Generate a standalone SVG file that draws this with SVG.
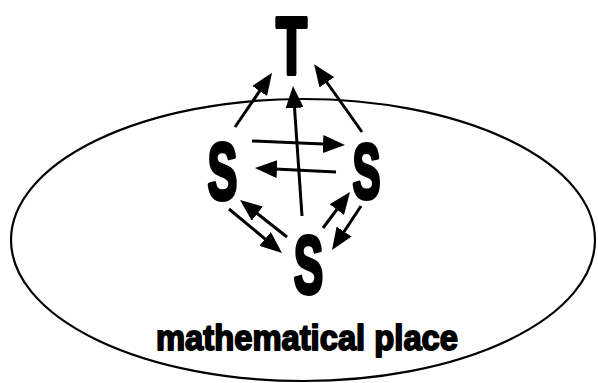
<svg xmlns="http://www.w3.org/2000/svg" width="598" height="383" viewBox="0 0 598 383">
<style>
.bg{fill:#ffffff}
.place{fill:none;stroke:#000;stroke-width:2.2}
.letter{font-family:"Liberation Sans",Arial,sans-serif;font-weight:bold;fill:#000;stroke:#000;stroke-width:4;stroke-linejoin:round;text-anchor:middle}
.label{font-family:"Liberation Sans",Arial,sans-serif;font-weight:bold;font-size:35px;fill:#000;stroke:#000;stroke-width:1.8;stroke-linejoin:round}
.conn line{stroke:#000;stroke-width:3;fill:none;marker-end:url(#ah)}
</style>
<defs>
<marker id="ah" markerUnits="userSpaceOnUse" markerWidth="22" markerHeight="18" refX="12" refY="9" orient="auto" viewBox="0 0 22 18">
<path d="M0,0 L22,9 L0,18 z" fill="#000"/>
</marker>
</defs>
<rect class="bg" x="0" y="0" width="598" height="383"/>
<g id="place">
<ellipse class="place" cx="303" cy="240" rx="292" ry="141"/>
<text class="label" x="156" y="350" textLength="302" lengthAdjust="spacingAndGlyphs">mathematical place</text>
</g>
<g id="T"><text class="letter" transform="translate(291.5,74) scale(0.62,1)" font-size="82">T</text></g>
<g id="S-left"><text class="letter" transform="translate(222.5,199) scale(0.56,1)" font-size="80">S</text></g>
<g id="S-right"><text class="letter" transform="translate(366.5,198) scale(0.54,1)" font-size="78">S</text></g>
<g id="S-bottom"><text class="letter" transform="translate(308.5,293) scale(0.54,1)" font-size="82">S</text></g>
<g id="connectors" class="conn">
<line x1="235" y1="127" x2="266.4" y2="81.1"/>
<line x1="302" y1="216" x2="293.7" y2="96"/>
<line x1="362" y1="132" x2="319.9" y2="72.5"/>
<line x1="252" y1="141" x2="335" y2="144.6"/>
<line x1="336" y1="172" x2="265" y2="168.5"/>
<line x1="229" y1="209" x2="274.3" y2="246.6"/>
<line x1="287" y1="237" x2="247.9" y2="206.2"/>
<line x1="323" y1="228" x2="344" y2="200"/>
<line x1="361" y1="206" x2="337.5" y2="241.6"/>
</g>
</svg>
